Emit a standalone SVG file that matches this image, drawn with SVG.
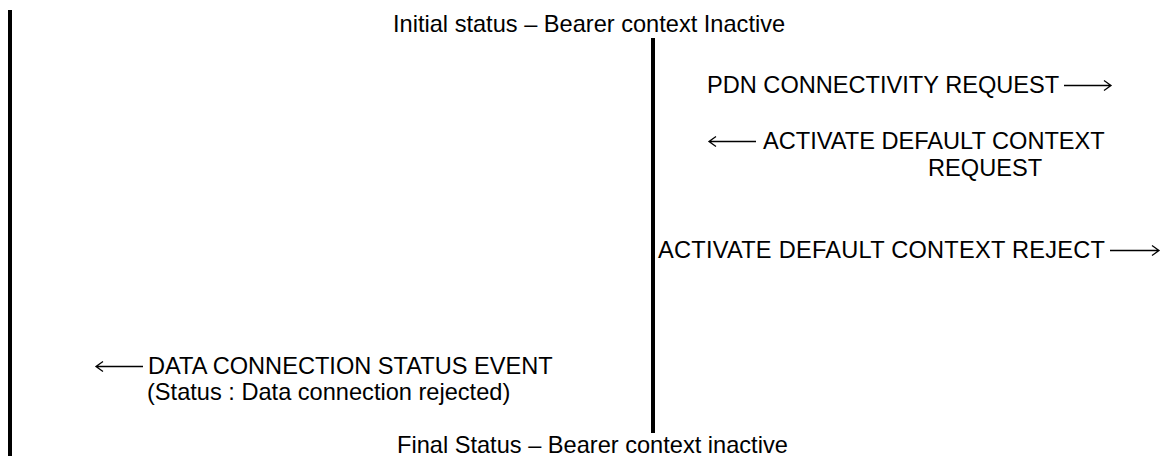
<svg xmlns="http://www.w3.org/2000/svg" width="1165" height="456" viewBox="0 0 1165 456">
<style>
.t{font-family:"Liberation Sans",Arial,sans-serif;font-size:23.6px;fill:#000}
.bar{fill:#000}
.arr{fill:none;stroke:#000;stroke-width:1.3}
</style>
<rect width="1165" height="456" fill="#fff"/>
<g id="lifeline-left"><rect class="bar" x="8" y="10" width="4" height="446"/></g>
<g id="lifeline-center"><rect class="bar" x="651" y="38" width="4" height="395"/></g>
<g id="status-initial"><text class="t" x="393" y="32">Initial status – Bearer context Inactive</text></g>
<g id="status-final"><text class="t" x="397" y="453">Final Status – Bearer context inactive</text></g>
<g id="connectors">
<g id="msg-pdn"><text class="t" x="707" y="93">PDN CONNECTIVITY REQUEST</text><path class="arr" d="M1064 85.5H1111M1104 80.5L1111 85.5L1104 90.5"/></g>
<g id="msg-activate"><path class="arr" d="M756 141.5H709M716 136.5L709 141.5L716 146.5"/><text class="t" x="763" y="149">ACTIVATE DEFAULT CONTEXT</text><text class="t" x="928" y="176">REQUEST</text></g>
<g id="msg-reject"><text class="t" x="658" y="258" textLength="447">ACTIVATE DEFAULT CONTEXT REJECT</text><path class="arr" d="M1110 250.5H1159M1152 245.5L1159 250.5L1152 255.5"/></g>
<g id="msg-event"><path class="arr" d="M143 366.5H96M103 361.5L96 366.5L103 371.5"/><text class="t" x="148" y="374">DATA CONNECTION STATUS EVENT</text><text class="t" x="147" y="400">(Status : Data connection rejected)</text></g>
</g>
</svg>
